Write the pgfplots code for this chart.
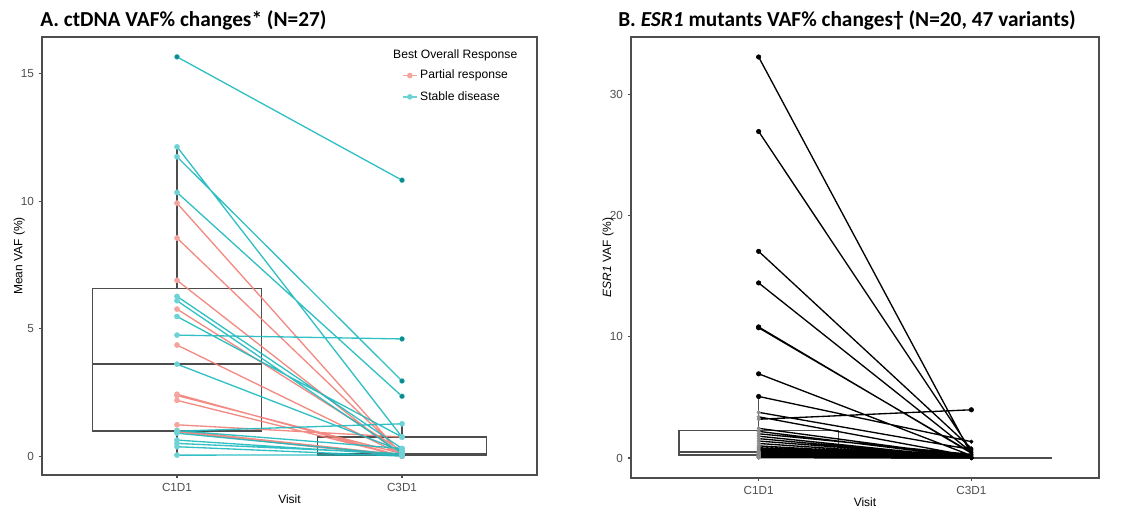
\documentclass[border=0pt]{standalone}
\usepackage{pgfplots}
\pgfplotsset{compat=1.18}
\usepackage{pgfplotstable}
\usepgfplotslibrary{statistics}
\usepackage{fontspec}
\setmainfont{Liberation Sans}
\newfontfamily\titlefont{Carlito}
\definecolor{teal1}{HTML}{1DB9BE}
\definecolor{red1}{HTML}{F07E75}
\definecolor{tealpt}{HTML}{6FD3D6}
\definecolor{redpt}{HTML}{F4A59F}
\definecolor{tealdark}{HTML}{0E8A8E}
\definecolor{frame}{HTML}{4D4D4D}
\definecolor{ticklab}{HTML}{4D4D4D}
\definecolor{ptgray}{HTML}{8A8A8A}

% Panel A: stable disease (teal) pairs, C1D1 -> C3D1
\pgfplotstableread{
x y
1 15.67
2 10.83
nan nan
1 12.14
2 0.75
nan nan
1 11.75
2 2.95
nan nan
1 10.35
2 2.35
nan nan
1 6.27
2 0.30
nan nan
1 6.10
2 0.10
nan nan
1 5.48
2 0.75
nan nan
1 4.75
2 4.60
nan nan
1 3.61
2 0.20
nan nan
1 0.98
2 1.27
nan nan
1 0.90
2 0.05
nan nan
1 0.63
2 0.05
nan nan
1 0.50
2 0.10
nan nan
1 0.37
2 0.00
nan nan
1 0.04
2 0.05
nan nan
1 1.00
2 0.30
}\sdtable

% Panel A: partial response (red) pairs
\pgfplotstableread{
x y
1 9.93
2 0.05
nan nan
1 8.56
2 0.10
nan nan
1 6.90
2 0.00
nan nan
1 5.77
2 0.20
nan nan
1 4.36
2 0.05
nan nan
1 2.43
2 0.00
nan nan
1 2.38
2 0.10
nan nan
1 2.19
2 0.00
nan nan
1 1.23
2 0.75
nan nan
1 1.00
2 0.05
nan nan
1 0.95
2 0.00
}\prtable

% Panel B: ESR1 variants
\pgfplotstableread{
x y
1 33.10
2 0.30
nan nan
1 26.95
2 0.60
nan nan
1 17.06
2 0.80
nan nan
1 14.45
2 0.50
nan nan
1 10.82
2 0.40
nan nan
1 10.75
2 0.45
nan nan
1 6.95
2 0.20
nan nan
1 5.08
2 1.35
nan nan
1 3.77
2 0.70
nan nan
1 3.40
2 0.15
nan nan
1 3.20
2 3.98
nan nan
1 2.45
2 0.10
nan nan
1 2.20
2 0.05
nan nan
1 2.00
2 0.30
nan nan
1 1.80
2 0.00
nan nan
1 1.60
2 0.00
nan nan
1 1.40
2 0.05
nan nan
1 1.20
2 0.00
nan nan
1 1.00
2 0.00
nan nan
1 0.85
2 0.00
nan nan
1 0.75
2 0.00
nan nan
1 0.65
2 0.00
nan nan
1 0.55
2 0.00
nan nan
1 0.50
2 0.00
nan nan
1 0.48
2 0.00
nan nan
1 0.45
2 0.00
nan nan
1 0.42
2 0.00
nan nan
1 0.40
2 0.00
nan nan
1 0.38
2 0.00
nan nan
1 0.35
2 0.00
nan nan
1 0.33
2 0.00
nan nan
1 0.30
2 0.00
nan nan
1 0.28
2 0.00
nan nan
1 0.26
2 0.00
nan nan
1 0.24
2 0.00
nan nan
1 0.22
2 0.00
nan nan
1 0.20
2 0.00
nan nan
1 0.18
2 0.00
nan nan
1 0.16
2 0.00
nan nan
1 0.14
2 0.00
nan nan
1 0.12
2 0.00
nan nan
1 0.10
2 0.00
nan nan
1 0.08
2 0.00
nan nan
1 0.06
2 0.00
nan nan
1 0.05
2 0.00
nan nan
1 0.03
2 0.00
nan nan
1 0.02
2 0.00
}\esrtable

\pgfplotsset{
  ggbase/.style={
    anchor=south west, scale only axis,
    xmin=0.4, xmax=2.6,
    xtick={1,2}, xticklabels={C1D1,C3D1},
    xtick pos=bottom, ytick pos=left,
    tick align=outside, major tick length=2.6pt,
    tick style={frame, line width=0.8pt},
    axis line style={frame, line width=1.1pt},
    ticklabel style={font=\fontsize{8.8}{10}\selectfont, text=ticklab},
    /pgf/number format/assume math mode=true,
    label style={font=\fontsize{9}{10}\selectfont},
    xlabel style={at={(axis description cs:0.5,0)}, anchor=base, yshift=-21.4pt},
    boxplot/draw direction=y,
    clip=false,
  },
}

\begin{document}
\begin{tikzpicture}
\path (0pt,0pt) rectangle (845.25pt,381.75pt);

\node[anchor=base west, inner sep=0pt, font=\titlefont\bfseries\fontsize{16}{18}\selectfont] at (30pt,361.5pt) {A. ctDNA VAF\% changes* (N=27)};
\node[anchor=base west, inner sep=0pt, font=\titlefont\bfseries\fontsize{16}{18}\selectfont] at (463.5pt,361.5pt) {B. \textit{ESR1} mutants VAF\% changes† (N=20, 47 variants)};

% ---------------- Panel A ----------------
\begin{axis}[ggbase,
  at={(31.5pt,25.5pt)}, width=371.25pt, height=328.5pt,
  ymin=-0.74, ymax=16.45, ytick={0,5,10,15},
  xlabel={Visit}, ylabel={Mean VAF (\%)},
  ylabel style={at={(axis description cs:-0.0394,0.5)}, anchor=base},
  legend image code/.code={\draw[mark repeat=2,mark phase=2,#1] plot coordinates {(0cm,0cm) (0.185cm,0cm) (0.37cm,0cm)};},
  legend style={draw=none, fill=none, at={(rel axis cs:0.727,0.931)}, anchor=north west,
    font=\fontsize{9.1}{11}\selectfont, row sep=3.9pt, inner sep=0pt},
  legend cell align=left,
]
\addplot[forget plot, draw=frame, line width=1.1pt,
  boxplot prepared={draw position=1, lower whisker=0.04, lower quartile=0.99,
  median=3.62, upper quartile=6.57, upper whisker=12.14, box extend=0.75, whisker extend=0}]
  coordinates {};
\addplot[forget plot, draw=frame, line width=1.1pt,
  boxplot prepared={draw position=2, lower whisker=0, lower quartile=0.02,
  median=0.09, upper quartile=0.75, upper whisker=1.27, box extend=0.75, whisker extend=0}]
  coordinates {};

\addplot[forget plot, red1, opacity=0.9, line width=1pt, unbounded coords=jump, mark=none] table {\prtable};
\addplot[forget plot, teal1, opacity=0.9, line width=1pt, unbounded coords=jump, mark=none] table {\sdtable};
\addplot[forget plot, redpt, only marks, mark=*, mark size=1.9pt, mark options={solid, draw=redpt, fill=redpt}] table {\prtable};
\addplot[forget plot, tealpt, only marks, mark=*, mark size=1.9pt, mark options={solid, draw=tealpt, fill=tealpt}] table {\sdtable};
\addplot[forget plot, tealdark, only marks, mark=*, mark size=1.5pt, mark options={solid, draw=tealdark, fill=tealdark}]
  coordinates {(1,15.67) (2,10.83) (2,4.60) (2,2.95) (2,2.35)};

\node[anchor=base west, inner sep=0pt, font=\fontsize{9.1}{11}\selectfont] at (rel axis cs:0.709,0.952) {Best Overall Response};
\addlegendimage{redpt, line width=1pt, mark=*, mark size=1.6pt, mark options={solid, draw=redpt, fill=redpt}}
\addlegendentry{Partial response}
\addlegendimage{tealpt, line width=1pt, mark=*, mark size=1.6pt, mark options={solid, draw=tealpt, fill=tealpt}}
\addlegendentry{Stable disease}
\end{axis}

% ---------------- Panel B ----------------
\begin{axis}[ggbase,
  at={(473.25pt,23.25pt)}, width=351pt, height=330.75pt,
  ymin=-1.65, ymax=34.75, ytick={0,10,20,30},
  xlabel={Visit}, ylabel={\textit{ESR1} VAF (\%)},
  ylabel style={at={(axis description cs:-0.0427,0.5)}, anchor=base},
]
\addplot[draw=frame, line width=1.1pt,
  boxplot prepared={draw position=1, lower whisker=0.02, lower quartile=0.25,
  median=0.50, upper quartile=2.25, upper whisker=5.08, box extend=0.75, whisker extend=0}]
  coordinates {};
\addplot[draw=frame, line width=1.1pt,
  boxplot prepared={draw position=2, lower whisker=0, lower quartile=0,
  median=0, upper quartile=0.02, upper whisker=0.05, box extend=0.75, whisker extend=0}]
  coordinates {};
\addplot[black, line width=1pt, unbounded coords=jump, mark=none] table {\esrtable};
\addplot[ptgray, only marks, mark=*, mark size=1.3pt, mark options={solid, draw=ptgray, fill=ptgray},
  restrict x to domain=0.9:1.1] table {\esrtable};
\addplot[black, only marks, mark=*, mark size=1.3pt, mark options={solid, fill=black},
  restrict x to domain=1.9:2.1] table {\esrtable};
\addplot[black, only marks, mark=*, mark size=1.7pt, mark options={solid, fill=black}]
  coordinates {(1,33.10) (1,26.95) (1,17.06) (1,14.45) (1,10.82) (1,10.75) (1,6.95) (1,5.08) (2,3.98)};
\end{axis}
\end{tikzpicture}
\end{document}
